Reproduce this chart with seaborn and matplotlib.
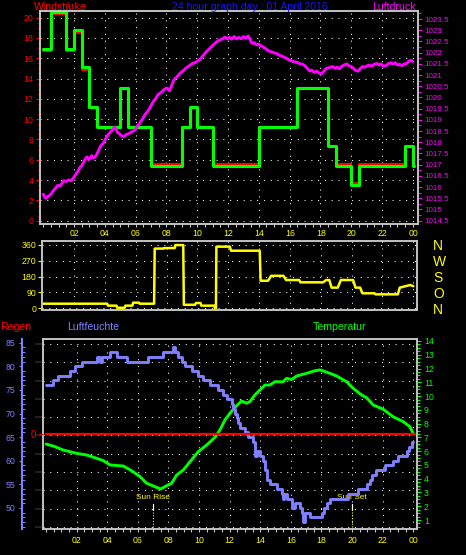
import numpy as np
import matplotlib
matplotlib.use('Agg')
import matplotlib.pyplot as plt
from matplotlib.ticker import MultipleLocator, FuncFormatter
import seaborn as sns

# ---- data ----
title = '24 hour graph day : 01 April 2016'
hour_ticks = [2, 4, 6, 8, 10, 12, 14, 16, 18, 20, 22, 24]
hour_labels = ['02', '04', '06', '08', '10', '12', '14', '16', '18', '20', '22', '00']

# wind (step changes)
wind_hours = [0, 0.5, 1.5, 2.0, 2.5, 3.0, 3.5, 5.0, 5.5, 7.0, 9.0, 9.5, 10.0,
              11.0, 14.0, 16.5, 18.5, 19.0, 20.0, 20.5, 23.5, 24.0, 24.08]
wind_gust = [16.9, 20.6, 16.9, 18.8, 15.1, 11.2, 9.26, 13.06, 9.26, 5.43, 9.26, 11.2, 9.26,
             5.43, 9.26, 13.06, 7.4, 5.43, 3.54, 5.43, 7.4, 5.43, 5.43]
wind_avg = [16.7, 20.4, 16.7, 18.5, 14.8, 11.1, 9.26, 13.0, 9.26, 5.6, 9.26, 11.1, 9.26,
            5.6, 9.26, 13.0, 7.4, 5.6, 3.7, 5.6, 7.4, 5.6, 5.6]

pressure_hours = [0.00, 0.10, 0.20, 0.30, 0.40, 0.55, 0.66, 0.80, 0.95, 1.10, 1.25, 1.35, 1.50,
                  1.65, 1.80, 1.95, 2.10, 2.25, 2.40, 2.50, 2.62, 2.75, 2.85, 2.95, 3.05, 3.15,
                  3.25, 3.35, 3.47, 3.60, 3.75, 3.90, 4.05, 4.20, 4.35, 4.50, 4.62, 4.72, 4.82,
                  4.95, 5.10, 5.25, 5.40, 5.55, 5.70, 5.85, 5.98, 6.08, 6.20, 6.35, 6.50, 6.62,
                  6.75, 6.90, 7.05, 7.15, 7.30, 7.45, 7.60, 7.75, 7.90, 8.05, 8.20, 8.35, 8.50,
                  8.65, 8.80, 8.95, 9.10, 9.25, 9.40, 9.55, 9.70, 9.85, 10.00, 10.15, 10.30,
                  10.45, 10.60, 10.75, 10.90, 11.05, 11.20, 11.35, 11.50, 11.65, 11.80, 11.95,
                  12.10, 12.25, 12.40, 12.55, 12.70, 12.85, 13.00, 13.15, 13.30, 13.42, 13.55,
                  13.70, 13.85, 14.00, 14.15, 14.30, 14.45, 14.60, 14.75, 14.90, 15.05, 15.20,
                  15.35, 15.50, 15.65, 15.80, 15.95, 16.10, 16.25, 16.40, 16.55, 16.70, 16.85,
                  17.00, 17.15, 17.30, 17.45, 17.60, 17.75, 17.90, 18.05, 18.20, 18.35, 18.50,
                  18.65, 18.80, 18.95, 19.10, 19.25, 19.40, 19.55, 19.70, 19.85, 20.00, 20.15,
                  20.30, 20.45, 20.60, 20.75, 20.90, 21.05, 21.20, 21.35, 21.50, 21.65, 21.80,
                  21.95, 22.10, 22.25, 22.40, 22.55, 22.70, 22.85, 23.00, 23.15, 23.30, 23.45,
                  23.60, 23.75, 23.90, 24.00]
pressure_hpa = [1015.68, 1015.55, 1015.50, 1015.58, 1015.62, 1015.72, 1015.85, 1015.95, 1016.08,
                1016.05, 1016.20, 1016.28, 1016.25, 1016.32, 1016.28, 1016.40, 1016.55, 1016.70,
                1016.90, 1016.95, 1017.10, 1017.28, 1017.35, 1017.22, 1017.30, 1017.40, 1017.30,
                1017.33, 1017.45, 1017.65, 1017.85, 1017.95, 1018.15, 1018.32, 1018.45, 1018.55,
                1018.68, 1018.60, 1018.45, 1018.38, 1018.28, 1018.25, 1018.35, 1018.38, 1018.45,
                1018.50, 1018.55, 1018.72, 1018.78, 1018.95, 1019.10, 1019.25, 1019.35, 1019.50,
                1019.70, 1019.82, 1019.95, 1020.12, 1020.20, 1020.28, 1020.38, 1020.42, 1020.30,
                1020.55, 1020.80, 1020.90, 1021.02, 1021.12, 1021.20, 1021.30, 1021.38, 1021.45,
                1021.52, 1021.55, 1021.62, 1021.68, 1021.80, 1021.92, 1022.05, 1022.15, 1022.25,
                1022.35, 1022.45, 1022.52, 1022.58, 1022.62, 1022.70, 1022.62, 1022.68, 1022.60,
                1022.72, 1022.62, 1022.68, 1022.62, 1022.72, 1022.65, 1022.75, 1022.62, 1022.42,
                1022.45, 1022.35, 1022.38, 1022.30, 1022.25, 1022.18, 1022.10, 1022.05, 1022.02,
                1021.98, 1021.95, 1021.88, 1021.85, 1021.80, 1021.75, 1021.68, 1021.65, 1021.60,
                1021.58, 1021.55, 1021.50, 1021.48, 1021.42, 1021.30, 1021.18, 1021.22, 1021.12,
                1021.18, 1021.10, 1021.05, 1021.15, 1021.28, 1021.32, 1021.35, 1021.38, 1021.30,
                1021.35, 1021.28, 1021.40, 1021.45, 1021.50, 1021.42, 1021.38, 1021.30, 1021.20,
                1021.18, 1021.30, 1021.38, 1021.35, 1021.42, 1021.45, 1021.40, 1021.48, 1021.52,
                1021.45, 1021.50, 1021.40, 1021.42, 1021.50, 1021.55, 1021.50, 1021.55, 1021.45,
                1021.48, 1021.42, 1021.50, 1021.52, 1021.62, 1021.66, 1021.60]

dir_hours = [0.0, 4.15, 4.2, 4.75, 4.8, 5.28, 5.33, 5.78, 5.83, 6.2, 6.25, 7.19, 7.23, 7.8, 7.83,
             8.53, 8.57, 9.08, 9.12, 9.85, 9.9, 10.2, 10.25, 11.1, 11.13, 11.2, 11.23, 12.1,
             12.18, 14.04, 14.1, 14.58, 14.78, 15.58, 15.75, 16.6, 16.68, 18.15, 18.35, 18.55,
             18.7, 19.1, 19.3, 20.1, 20.25, 20.55, 20.7, 21.45, 21.55, 23.0, 23.12, 23.35, 23.8,
             24.0]
dir_deg = [26, 26, 15, 15, 3, 3, 15, 15, 32, 32, 26, 26, 338, 338, 341, 341, 358, 358, 20, 20,
           30, 30, 15, 15, 0, 0, 349, 349, 326, 326, 156, 156, 184, 184, 160, 160, 147, 147,
           160, 160, 117, 117, 160, 160, 117, 117, 85, 85, 79, 79, 117, 122, 132, 125]
dir_ticks = [0, 90, 180, 270, 360]
dir_letters = ['N', 'O', 'S', 'W', 'N']

hum_hours = [0.0, 0.47, 0.8, 1.56, 1.89, 2.33, 3.31, 3.52, 3.63, 4.18, 4.61, 5.27, 6.68, 7.66,
             8.31, 8.42, 8.64, 8.86, 9.08, 9.52, 9.95, 10.27, 10.71, 11.25, 11.58, 11.8, 12.13,
             12.25, 12.35, 12.45, 12.56, 12.68, 12.78, 13.0, 13.22, 13.54, 13.65, 13.76, 13.98,
             14.2, 14.32, 14.42, 14.63, 15.07, 15.4, 15.48, 15.57, 15.73, 16.05, 16.27, 16.6,
             16.75, 16.81, 16.9, 17.03, 17.25, 17.69, 18.01, 18.2, 18.34, 18.56, 19.0, 19.75,
             20.4, 20.95, 21.15, 21.28, 21.6, 22.15, 22.69, 23.02, 23.57, 23.75, 23.9, 24.0]
hum_pct = [76, 77, 78, 79, 80, 81, 82, 81, 82, 83, 82, 81, 82, 83, 84, 83, 82, 81, 80, 79, 78,
           77, 76, 75, 74, 73, 72, 71, 70, 69, 68, 67, 67, 66, 65, 64, 61, 62, 61, 60, 58, 56,
           55, 54, 53, 52, 53, 52, 50, 51, 50, 49, 47, 49, 49, 48, 48, 49, 50, 51, 52, 52, 53,
           54, 55, 56, 57, 58, 59, 60, 61, 62, 63, 64, 64]

temp_hours = [0.0, 0.58, 1.12, 2.0, 2.65, 3.31, 3.74, 4.18, 5.05, 5.59, 6.14, 6.58, 7.12, 7.49,
              7.88, 8.21, 8.54, 8.97, 9.41, 9.95, 10.5, 11.04, 11.37, 11.69, 12.02, 12.35, 12.78,
              13.11, 13.33, 13.65, 13.98, 14.31, 14.63, 14.96, 15.5, 15.73, 16.05, 16.38, 17.03,
              17.58, 17.9, 18.44, 18.99, 19.65, 20.08, 20.63, 20.95, 21.39, 22.04, 22.69, 23.35,
              23.78, 24.0]
temp_c = [6.52, 6.33, 6.08, 5.84, 5.72, 5.48, 5.31, 5.0, 4.92, 4.58, 4.15, 3.67, 3.42, 3.25,
          3.49, 3.67, 4.27, 4.63, 5.23, 5.96, 6.45, 7.0, 7.54, 8.26, 8.75, 9.18, 9.64, 9.48,
          9.6, 10.08, 10.44, 10.8, 10.8, 11.04, 11.04, 11.29, 11.2, 11.46, 11.65, 11.84, 11.9,
          11.7, 11.46, 11.04, 10.56, 10.08, 9.88, 9.35, 9.04, 8.5, 8.14, 7.78, 7.3]

rain_hours = [0, 24.1]
rain_mm = [0, 0]

sun_rise = 7.0
sun_set = 20.0

# ---- style ----
BOX = '#c8c8c8'
RED, GREEN, MAGENTA = '#ff0000', '#00ff00', '#ff00ff'
YELLOW, BLUE, HUM = '#ffff00', '#1414ff', '#8080ff'
DOT = (0, (1, 5.5))

sns.set_theme(style='dark', rc={'figure.facecolor': 'black', 'axes.facecolor': 'black',
                                'axes.edgecolor': BOX, 'savefig.facecolor': 'black',
                                'axes.linewidth': 1.1})
plt.rcParams['font.family'] = ['Liberation Sans', 'DejaVu Sans']

W, H = 466, 555
fig = plt.figure(figsize=(W / 100, H / 100), dpi=100)


def px_axes(l, t, r, b):
    return fig.add_axes([l / W, 1 - b / H, (r - l) / W, (b - t) / H])


def line(ax, x, y, **kw):
    sns.lineplot(x=x, y=y, ax=ax, estimator=None, sort=False, legend=False, **kw)
    ax.set_xlabel('')
    ax.set_ylabel('')


def dotted_grid(ax, axis='both'):
    ax.grid(True, which='major', axis=axis, color='white', lw=0.75, ls=DOT)


# ---- panel 1: wind speed + pressure ----
ax1 = px_axes(40, 10.7, 418, 224)
line(ax1, wind_hours, wind_avg, color=RED, lw=1.5, drawstyle='steps-post')
line(ax1, wind_hours, wind_gust, color=GREEN, lw=2.2, drawstyle='steps-post')
ax1.set_xlim(-0.21, 24.34)
ax1.set_ylim(-0.32, 20.68)
ax1.set_xticks(hour_ticks)
ax1.xaxis.set_minor_locator(MultipleLocator(0.5))
ax1.yaxis.set_major_locator(MultipleLocator(2))
ax1.yaxis.set_minor_locator(MultipleLocator(0.5))
dotted_grid(ax1)
ax1.tick_params(axis='x', which='both', bottom=True, labelbottom=False, color=BOX,
                length=2.2, width=0.8)
ax1.tick_params(axis='y', which='major', left=True, colors=RED, labelsize=6.3,
                length=3.2, width=0.8, pad=1.5)
ax1.tick_params(axis='y', which='minor', left=True, colors=RED, length=1.5, width=0.8)

ax1p = ax1.twinx()
line(ax1p, pressure_hours, pressure_hpa, color=MAGENTA, lw=2.1)
ax1p.set_ylim(1014.35, 1023.875)
ax1p.yaxis.set_major_locator(MultipleLocator(0.5))
ax1p.yaxis.set_minor_locator(MultipleLocator(0.25))
ax1p.yaxis.set_major_formatter(FuncFormatter(lambda v, _: f'{v:g}'))
ax1p.tick_params(axis='y', which='major', right=True, colors=MAGENTA, labelsize=5.8,
                 length=3.2, width=0.8, pad=1.5)
ax1p.tick_params(axis='y', which='minor', right=True, colors=MAGENTA, length=1.8, width=0.8)
ax1p.grid(False)

# ---- panel 2: wind direction ----
ax2 = px_axes(42.3, 241, 416.7, 310)
line(ax2, dir_hours, dir_deg, color=YELLOW, lw=1.8)
ax2.set_xlim(-0.06, 24.22)
ax2.set_ylim(-9.6, 381)
ax2.set_yticks(dir_ticks)
ax2.set_xticks(hour_ticks, hour_labels)
dotted_grid(ax2)
ax2.tick_params(axis='x', top=True, labeltop=True, bottom=False, labelbottom=False,
                length=0, pad=2, labelcolor=YELLOW, labelsize=6.3)
ax2.tick_params(axis='y', left=True, colors=YELLOW, labelsize=6.3, length=3, width=0.8, pad=1.5)

ax2r = ax2.twinx()
ax2r.set_ylim(ax2.get_ylim())
ax2r.set_yticks(dir_ticks, dir_letters)
ax2r.tick_params(axis='y', right=True, length=0, pad=12, labelcolor=YELLOW, labelsize=10)
ax2r.grid(False)

# ---- panel 3: temperature, humidity, rain ----
ax3 = px_axes(42.7, 339, 417.3, 529.3)
ax3.set_xlim(-0.22, 24.27)
ax3.set_ylim(0, 1)
ax3.set_yticks(np.linspace(0.012, 0.974, 11))
ax3.set_xticks(hour_ticks, hour_labels)
ax3.xaxis.set_minor_locator(MultipleLocator(0.5))
dotted_grid(ax3)
ax3.tick_params(axis='y', left=False, labelleft=False)
ax3.tick_params(axis='x', which='both', bottom=True, color=BOX, length=2.5, width=0.8)
ax3.tick_params(axis='x', which='major', labelcolor=YELLOW, labelsize=6.3, pad=2.5)

xt = ax3.get_xaxis_transform()
for t, name in [(sun_rise, 'Sun Rise'), (sun_set, 'Sun Set')]:
    ax3.text(t, 0.166, name, transform=xt, ha='center', va='center', color=YELLOW, fontsize=6)
    ax3.plot([t, t], [0.101, 0.135], transform=xt, color='white', lw=0.9)
    ax3.plot([t, t], [0.012, 0.101], transform=xt, color=YELLOW, lw=0.8, ls=(0, (1, 1.5)))

ax3t = ax3.twinx()
line(ax3t, temp_hours, temp_c, color=GREEN, lw=2.1)
ax3t.set_ylim(0.325, 14.145)
ax3t.yaxis.set_major_locator(MultipleLocator(1))
ax3t.yaxis.set_minor_locator(MultipleLocator(0.25))
ax3t.tick_params(axis='y', which='major', right=True, colors=GREEN, labelsize=6.3,
                 length=3.2, width=0.8, pad=1.5)
ax3t.tick_params(axis='y', which='minor', right=True, colors=GREEN, length=1.8, width=0.8)
ax3t.grid(False)

ax3h = ax3.twinx()
line(ax3h, hum_hours, hum_pct, color=HUM, lw=2.1, drawstyle='steps-post')
ax3h.set_ylim(45.49, 85.78)
ax3h.yaxis.set_ticks_position('left')
ax3h.yaxis.set_label_position('left')
for s in ['top', 'bottom', 'right']:
    ax3h.spines[s].set_visible(False)
ax3h.spines['left'].set_position(('axes', -0.0553))
ax3h.spines['left'].set_color(HUM)
ax3h.spines['left'].set_linewidth(1.5)
ax3h.yaxis.set_major_locator(MultipleLocator(5))
ax3h.yaxis.set_minor_locator(MultipleLocator(1))
ax3h.tick_params(axis='y', which='major', left=True, colors=HUM, labelsize=6.3,
                 length=2.5, width=0.8, pad=2, direction='out')
ax3h.tick_params(axis='y', which='minor', left=True, colors=HUM, length=2, width=0.8,
                 direction='in')
ax3h.grid(False)

ax3r = ax3.twinx()
line(ax3r, rain_hours, rain_mm, color=RED, lw=1.6)
ax3r.set_ylim(-1, 1)
ax3r.yaxis.set_ticks_position('left')
for s in ax3r.spines.values():
    s.set_visible(False)
ax3r.set_yticks([0])
ax3r.tick_params(axis='y', left=True, colors=RED, labelsize=7, length=3, width=0.8, pad=2)
ax3r.grid(False)

# ---- header texts ----
def fig_text(x, y, s, color, **kw):
    fig.text(x / W, 1 - y / H, s, color=color, va='center', fontsize=7.6, **kw)


fig_text(34, 6.5, 'Windstärke', RED)
fig_text(250, 6.5, title, BLUE, ha='center')
fig_text(416, 6.5, 'Luftdruck', MAGENTA, ha='right')
fig_text(0, 327, 'Regen', RED)
fig_text(67, 327, 'Luftfeuchte', HUM)
fig_text(313, 327, 'Temperatur', GREEN)

fig.savefig('out.png', dpi=100, facecolor='black')
